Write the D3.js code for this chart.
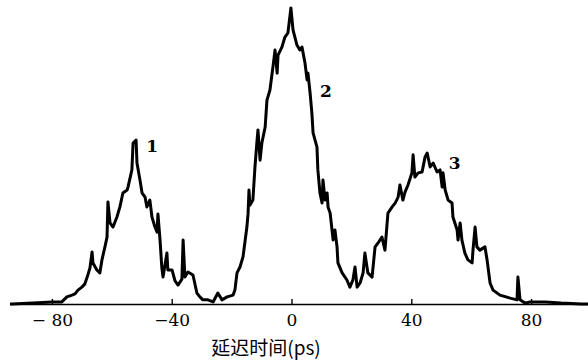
<!DOCTYPE html>
<html>
<head>
<meta charset="utf-8">
<script src="https://cdn.jsdelivr.net/npm/d3@7"></script>
<style>
  html, body { margin: 0; padding: 0; background: #fff; }
  svg { display: block; }
</style>
</head>
<body>
<svg id="chart" width="588" height="363"></svg>
<script>
// delay (ps) and intensity (arb. units, peak 2 = 100)
const delay = [
  -94.0, -93.4, -86.3, -80.0, -76.7, -75.0, -73.3, -72.3, -71.3, -70.0,
  -69.0, -68.0, -67.3, -66.6, -66.3, -65.0, -64.0, -63.3, -62.3, -61.6,
  -61.3, -60.6, -59.6, -58.3, -57.3, -56.3, -54.9, -54.6, -53.3, -52.9,
  -51.9, -51.6, -50.6, -49.9, -48.9, -48.3, -47.3, -46.6, -45.6, -44.9,
  -44.6, -43.9, -43.3, -42.9, -41.6, -41.3, -39.9, -38.9, -37.9, -36.6,
  -36.2, -35.6, -34.6, -32.9, -31.6, -30.6, -29.6, -27.9, -26.2, -24.6,
  -23.2, -21.5, -19.5, -18.9, -18.2, -17.2, -16.2, -14.9, -14.5, -14.2,
  -13.9, -12.9, -12.2, -11.5, -11.2, -10.5, -9.9, -8.8, -8.2, -7.2,
  -6.2, -5.5, -4.8, -4.5, -3.2, -2.2, -1.2, -0.2, 0.5, 1.8,
  2.8, 3.5, 4.5, 5.2, 5.5, 6.2, 6.8, 7.2, 8.5, 8.8,
  9.5, 10.2, 10.5, 11.2, 11.9, 12.2, 12.9, 13.9, 14.5, 15.2,
  15.5, 16.9, 18.5, 19.5, 20.5, 21.2, 21.9, 22.9, 23.9, 24.5,
  25.5, 26.9, 27.9, 28.9, 30.2, 31.2, 32.2, 33.6, 34.6, 35.6,
  36.2, 37.2, 37.9, 38.9, 40.2, 40.6, 41.2, 42.3, 43.6, 44.6,
  45.3, 46.3, 47.3, 48.6, 49.6, 50.3, 50.6, 51.3, 52.3, 53.6,
  53.9, 55.3, 55.6, 56.3, 56.9, 57.9, 58.9, 60.3, 60.6, 61.3,
  61.9, 62.9, 64.6, 65.3, 66.3, 67.3, 69.6, 73.0, 75.3, 75.6,
  76.3, 78.0, 79.6, 84.7, 90.0, 96.7, 99.0
];
const intensity = [
  0.0, 0.0, 0.3, 0.7, 0.7, 2.4, 3.0, 3.4, 4.7, 5.7,
  6.8, 9.8, 12.2, 17.6, 13.9, 11.5, 10.5, 14.9, 19.3, 22.6,
  34.5, 27.4, 26.0, 29.4, 32.8, 37.5, 38.5, 39.5, 45.3, 54.4,
  55.4, 47.6, 41.9, 37.5, 36.1, 32.8, 35.1, 29.4, 26.0, 24.3,
  30.4, 21.6, 12.2, 9.1, 17.2, 11.5, 11.5, 7.8, 6.4, 8.4,
  21.6, 9.1, 10.8, 9.8, 3.7, 2.4, 1.4, 1.4, 0.7, 3.7,
  1.4, 2.4, 3.0, 4.7, 10.5, 12.5, 15.9, 26.0, 30.7, 38.5,
  33.4, 35.1, 46.3, 55.4, 58.8, 48.6, 54.4, 59.8, 68.9, 72.3,
  80.1, 85.8, 78.0, 84.1, 86.8, 90.2, 91.6, 100.0, 92.6, 87.5,
  85.8, 86.8, 81.4, 75.7, 78.0, 71.3, 64.5, 57.8, 53.0, 45.3,
  37.5, 34.1, 41.9, 35.1, 37.5, 32.8, 30.7, 21.6, 25.0, 19.3,
  13.9, 10.5, 8.1, 5.7, 8.1, 12.5, 5.7, 7.1, 10.5, 17.2,
  10.5, 9.1, 19.3, 20.6, 22.6, 18.2, 30.7, 32.8, 34.1, 36.1,
  40.2, 35.1, 37.8, 40.2, 44.3, 50.4, 42.9, 44.3, 44.6, 49.7,
  51.0, 46.3, 47.6, 44.6, 45.3, 39.5, 44.3, 38.5, 35.1, 34.1,
  29.4, 25.0, 21.6, 27.4, 21.6, 17.2, 14.9, 13.9, 18.2, 26.0,
  19.3, 18.2, 19.3, 14.9, 7.1, 4.7, 3.0, 2.0, 1.4, 9.1,
  1.4, 0.3, 0.7, 0.7, 0.3, 0.0, 0.0
];
const tickValues = [-80, -40, 0, 40, 80];
const tickLabels = ["\u2212 80", "\u221240", "0", "40", "80"];
const peakLabels = ["1", "2", "3"];
const peakDelay = [-46.5, 11.5, 54.5];
const peakLevel = [51.5, 70, 45.5];
const axisTitle = "延迟时间(ps)";

const svg = d3.select("#chart");
const trace = delay.map((d, i) => ({x: d, y: intensity[i]}));

const x = d3.scaleLinear().domain([-94, 99]).range([10, 588]);
const y = d3.scaleLinear().domain([0, 100]).range([304, 8]);

// axis: thin baseline with short upward ticks
const axis = svg.append("g")
    .attr("transform", `translate(0,${y(0)})`)
    .call(d3.axisBottom(x)
        .tickValues(tickValues)
        .tickSize(-5)
        .tickSizeOuter(0)
        .tickPadding(10)
        .tickFormat((d, i) => tickLabels[i]));
axis.select(".domain").attr("stroke", "#000").attr("stroke-width", 1.7);
axis.selectAll(".tick line").attr("stroke", "#000").attr("stroke-width", 1.4);
axis.selectAll(".tick text")
    .attr("fill", "#000")
    .style("font-family", "'DejaVu Serif', serif")
    .style("font-size", "17px");

svg.append("path")
    .datum(trace)
    .attr("fill", "none")
    .attr("stroke", "#000")
    .attr("stroke-width", 3)
    .attr("stroke-linejoin", "round")
    .attr("d", d3.line().x(d => x(d.x)).y(d => y(d.y)));

svg.selectAll(".peak")
    .data(peakLabels)
    .join("text")
    .attr("class", "peak")
    .attr("x", (d, i) => x(peakDelay[i]))
    .attr("y", (d, i) => y(peakLevel[i]))
    .attr("text-anchor", "middle")
    .style("font-family", "'DejaVu Serif', serif")
    .style("font-weight", "bold")
    .style("font-size", "17px")
    .text(d => d);

svg.append("text")
    .attr("x", 266)
    .attr("y", 355)
    .attr("text-anchor", "middle")
    .style("font-family", "'Noto Sans CJK SC', sans-serif")
    .style("font-size", "19px")
    .text(axisTitle);
</script>
</body>
</html>
